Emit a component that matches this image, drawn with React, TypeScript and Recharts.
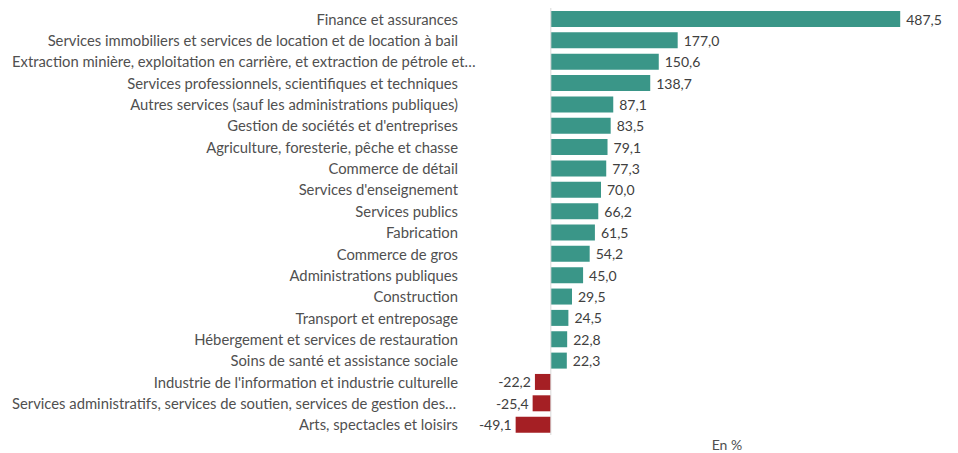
import { BarChart, Bar, XAxis, YAxis, Cell, LabelList, ReferenceLine } from "recharts"

const categories = [
  "Finance et assurances",
  "Services immobiliers et services de location et de location à bail",
  "Extraction minière, exploitation en carrière, et extraction de pétrole et…",
  "Services professionnels, scientifiques et techniques",
  "Autres services (sauf les administrations publiques)",
  "Gestion de sociétés et d'entreprises",
  "Agriculture, foresterie, pêche et chasse",
  "Commerce de détail",
  "Services d'enseignement",
  "Services publics",
  "Fabrication",
  "Commerce de gros",
  "Administrations publiques",
  "Construction",
  "Transport et entreposage",
  "Hébergement et services de restauration",
  "Soins de santé et assistance sociale",
  "Industrie de l'information et industrie culturelle",
  "Services administratifs, services de soutien, services de gestion des…",
  "Arts, spectacles et loisirs",
]

const values = [
  487.5, 177.0, 150.6, 138.7, 87.1, 83.5, 79.1, 77.3, 70.0, 66.2, 61.5, 54.2, 45.0, 29.5, 24.5, 22.8, 22.3,
  -22.2, -25.4, -49.1,
]

const data = categories.map((name, i) => ({ name, value: values[i] }))

const FONT = "Lato, 'Open Sans', sans-serif"
const POS = "#3a9688"
const NEG = "#a51f24"

const fmt = (v: number) => v.toFixed(1).replace(".", ",")

// truncated labels (ending with …) fill the space from the left edge, like the original
function CategoryTick({ y, payload }: any) {
  const label: string = payload.value
  const truncated = label.endsWith("…")
  return (
    <text
      x={truncated ? 12 : 458}
      y={y}
      textAnchor={truncated ? "start" : "end"}
      dominantBaseline="central"
      fontFamily={FONT}
      fontSize={14.8}
      fill="#505050"
    >
      {label}
    </text>
  )
}

function ValueLabel(props: any) {
  const { x, y, width, height, value } = props
  const left = Math.min(x, x + width)
  const right = Math.max(x, x + width)
  const neg = value < 0
  return (
    <text
      x={neg ? left - 4 : right + 6}
      y={y + height / 2}
      textAnchor={neg ? "end" : "start"}
      dominantBaseline="central"
      fontFamily={FONT}
      fontSize={14}
      fill="#404040"
    >
      {fmt(value)}
    </text>
  )
}

export default function App() {
  return (
    <div style={{ position: "absolute", left: 0, top: 0, width: 958, height: 453, background: "#fff" }}>
      <BarChart
        width={958}
        height={453}
        data={data}
        layout="vertical"
        margin={{ top: 8, right: 56, bottom: 18, left: 0 }}
      >
        <XAxis type="number" domain={[-50, 490]} hide />
        <YAxis
          type="category"
          dataKey="name"
          width={515}
          axisLine={false}
          tickLine={false}
          interval={0}
          tick={<CategoryTick />}
        />
        <ReferenceLine x={0} stroke="#d9d9d9" strokeWidth={1} />
        <Bar dataKey="value" barSize={16} isAnimationActive={false}>
          {data.map((d, i) => (
            <Cell key={i} fill={d.value < 0 ? NEG : POS} />
          ))}
          <LabelList dataKey="value" content={<ValueLabel />} />
        </Bar>
      </BarChart>
      <div
        style={{
          position: "absolute",
          left: 700,
          width: 54,
          top: 436,
          textAlign: "center",
          fontFamily: FONT,
          fontSize: 14,
          color: "#505050",
        }}
      >
        En %
      </div>
    </div>
  )
}
